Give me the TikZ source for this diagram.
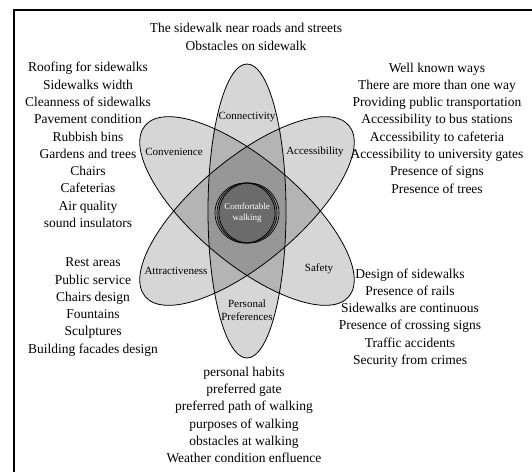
\documentclass[tikz,border=0pt]{standalone}
\usepackage{fontspec}
\setmainfont{Liberation Serif}
\usetikzlibrary{positioning}
\tikzstyle{petal} = [fill=black, fill opacity=0.16]
\tikzstyle{rim} = [draw=black, line width=0.8pt]
\tikzstyle{petallabel} = [inner sep=0pt, font=\fontsize{11}{12.5}\selectfont]
\tikzstyle{itemlist} = [inner sep=0pt, align=center, font=\fontsize{13.5}{17.3}\selectfont]

\begin{document}
\begin{tikzpicture}[x=1pt, y=-1pt]
        \useasboundingbox (0,0) rectangle (532,472);
        \draw[line width=2pt] (14,472) -- (14,10) -- (532,10);
        \coordinate (mid) at (247,211);
        % petals: shade first, outline after
        \foreach \ang/\len/\wid in {90/147/39, 40/133/52, -40/133/52}
            \path[petal, rotate around={\ang:(mid)}] (mid) ellipse [x radius=\len pt, y radius=\wid pt];
        \foreach \ang/\len/\wid in {90/147/39, 40/133/52, -40/133/52}
            \path[rim, rotate around={\ang:(mid)}] (mid) ellipse [x radius=\len pt, y radius=\wid pt];
        \node (hub) [circle, fill=black!58, minimum size=59pt, inner sep=0pt, align=center, text=white, font=\fontsize{9}{11.5}\selectfont] at (247,213) {Comfortable\\walking};
        \foreach \dx in {-2,0,2}
            \draw[line width=0.7pt] (hub.center) ++(\dx,0) circle [radius=30pt];
        \node (connect) [petallabel] at (247,117) {Connectivity};
        \node (conven) [petallabel] at (174,152) {Convenience};
        \node (access) [petallabel] at (315,152) {Accessibility};
        \node (attract) [petallabel] at (176,271) {Attractiveness};
        \node (safe) [petallabel] at (319,269) {Safety};
        \node (prefer) [petallabel, align=center] at (247,310) {Personal\\Preferences};
        \node (topitems) [itemlist] at (246,37) {The sidewalk near roads and streets\\Obstacles on sidewalk};
        \node (leftitems) [itemlist] at (88,145) {Roofing for sidewalks\\Sidewalks width\\Cleanness of sidewalks\\Pavement condition\\Rubbish bins\\Gardens and trees\\Chairs\\Cafeterias\\Air quality\\sound insulators};
        \node (rightitems) [itemlist] at (437,128) {Well known ways\\There are more than one way\\Providing public transportation\\Accessibility to bus stations\\Accessibility to cafeteria\\Accessibility to university gates\\Presence of signs\\Presence of trees};
        \node (lowleftitems) [itemlist] at (93,307) {Rest areas\\Public service\\Chairs design\\Fountains\\Sculptures\\Building facades design};
        \node (lowrightitems) [itemlist] at (410,318) {Design of sidewalks\\Presence of rails\\Sidewalks are continuous\\Presence of crossing signs\\Traffic accidents\\Security from crimes};
        \node (bottomitems) [itemlist] at (244,415) {personal habits\\preferred gate\\preferred path of walking\\purposes of walking\\obstacles at walking\\Weather condition enfluence};
    \end{tikzpicture}
\end{document}
